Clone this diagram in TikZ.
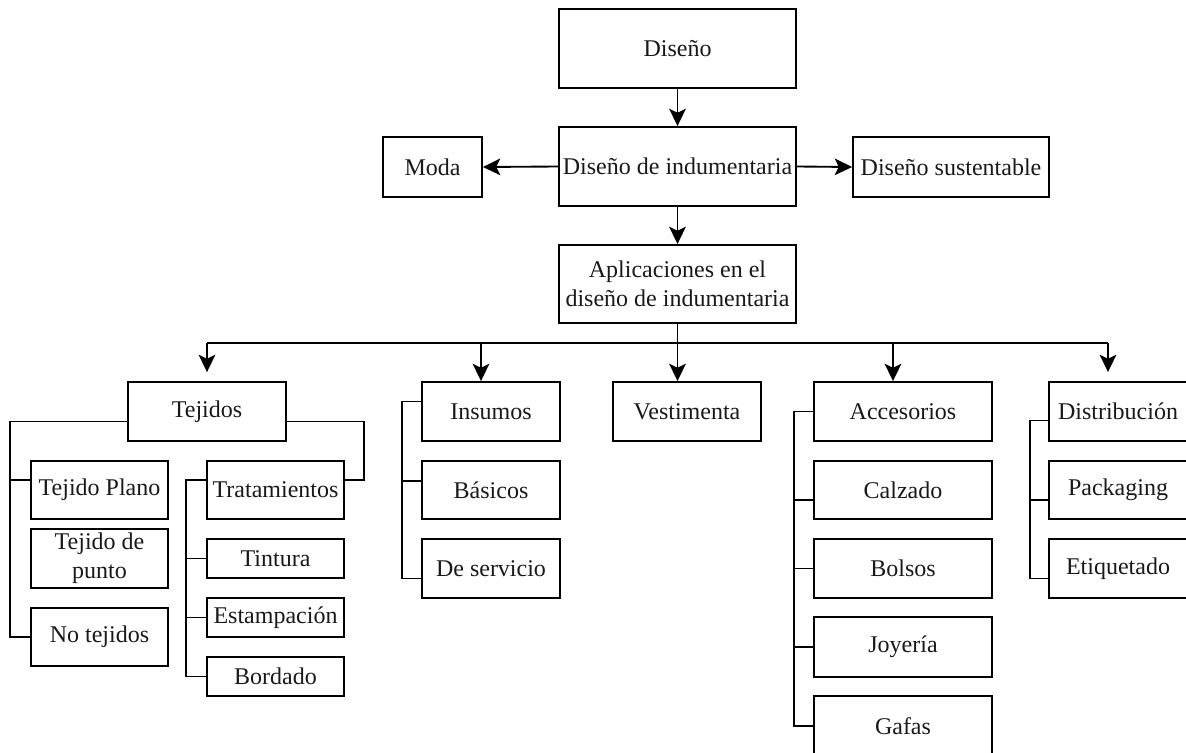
\documentclass[tikz,border=0pt]{standalone}
\usepackage{fontspec}
\setmainfont{Liberation Serif}
\usetikzlibrary{arrows.meta,calc}
\newcommand{\bx}[6]{%
  \pgfmathsetmacro{\boxwd}{(#4-#2)*0.75}%
  \pgfmathsetmacro{\boxht}{(#5-#3)*0.75}%
  \node[box, minimum width=\boxwd pt, minimum height=\boxht pt] (#1) at ({(#2+#4)/2},{(#3+#5)/2}) {#6};}
\begin{document}
\begin{tikzpicture}[x=0.75pt,y=-0.75pt,line width=1.4pt,
  box/.style={draw, rectangle, inner sep=0pt, align=center, text=black!90,
    font=\fontsize{18}{21.75}\selectfont},
  arr/.style={-{Stealth[length=13pt,width=12.5pt,inset=3pt]}}]
\useasboundingbox (0,0) rectangle (1186,753);
% top
\bx{dis}{559}{9}{796}{88}{Diseño}
\bx{ddi}{559}{127}{796}{206}{Diseño de indumentaria}
\bx{moda}{383}{137}{482}{197}{Moda}
\bx{sus}{853}{137}{1049}{197}{Diseño sustentable}
\bx{apl}{559}{245}{796}{323}{Aplicaciones en el\\diseño de indumentaria}
% Tejidos
\bx{tej}{128}{382}{286}{441}{Tejidos}
\bx{tpl}{31}{461}{168}{519}{Tejido Plano}
\bx{tdp}{31}{529}{168}{588}{Tejido de\\punto}
\bx{nte}{31}{608}{168}{666}{No tejidos}
\bx{tra}{207}{461}{344}{519}{Tratamientos}
\bx{tin}{207}{539}{344}{578}{Tintura}
\bx{est}{207}{598}{344}{637}{Estampación}
\bx{bor}{207}{657}{344}{696}{Bordado}
% Insumos
\bx{ins}{422}{382}{560}{441}{Insumos}
\bx{bas}{422}{461}{560}{519}{Básicos}
\bx{des}{422}{539}{560}{598}{De servicio}
% Vestimenta
\bx{ves}{613}{382}{761}{441}{Vestimenta}
% Accesorios
\bx{acc}{814}{382}{992}{441}{Accesorios}
\bx{cal}{814}{461}{992}{519}{Calzado}
\bx{bol}{814}{539}{992}{598}{Bolsos}
\bx{joy}{814}{617}{992}{677}{Joyería}
\bx{gaf}{814}{696}{992}{756}{Gafas}
% Distribucion
\bx{dist}{1049}{382}{1187}{441}{Distribución}
\bx{pack}{1049}{461}{1187}{519}{Packaging}
\bx{eti}{1049}{539}{1187}{598}{Etiquetado}
% top connectors
\draw[arr] (dis.south) -- (ddi.north);
\draw[arr] (ddi.west) -- (moda.east);
\draw[arr] (ddi.east) -- (sus.west);
\draw[arr] (ddi.south) -- (apl.north);
% bus
\coordinate (bL) at (207,343);
\coordinate (bI) at (481,343);
\coordinate (bA) at (893,343);
\coordinate (bR) at (1108,343);
\draw (bL) -- (bR);
\draw[arr] (apl.south) -- (apl.south |- ves.north);
\draw[arr, shorten >=6.75pt] (bL) -- (bL |- tej.north);
\draw[arr] (bI) -- (bI |- ins.north);
\draw[arr] (bA) -- (bA |- acc.north);
\draw[arr, shorten >=6.75pt] (bR) -- (bR |- dist.north);
% Tejidos brackets
\draw ($(tej.west)+(0,10)$) -| ($(nte.west)+(-20,0)$) -- (nte.west);
\draw ($(tpl.west)+(-20,-10)$) -- ($(tpl.west)+(0,-10)$);
\draw ($(tej.east)+(0,10)$) -| ($(tra.east)+(19,-10)$) -- ($(tra.east)+(0,-10)$);
\draw ($(tra.west)+(0,-10)$) -| ($(bor.west)+(-20,0)$) -- (bor.west);
\draw ($(tin.west)+(-20,0)$) -- (tin.west);
\draw ($(est.west)+(-20,0)$) -- (est.west);
% Insumos brackets
\draw ($(ins.west)+(0,-10)$) -| ($(des.west)+(-19,10)$) -- ($(des.west)+(0,10)$);
\draw ($(bas.west)+(-19,-9)$) -- ($(bas.west)+(0,-9)$);
% Accesorios brackets
\draw (acc.west) -| ($(gaf.west)+(-19,0)$) -- (gaf.west);
\draw ($(cal.west)+(-19,10)$) -- ($(cal.west)+(0,10)$);
\draw ($(bol.west)+(-19,0)$) -- (bol.west);
\draw ($(joy.west)+(-19,0)$) -- (joy.west);
% Distribucion brackets
\draw ($(dist.west)+(0,9)$) -| ($(eti.west)+(-18,10)$) -- ($(eti.west)+(0,10)$);
\draw ($(pack.west)+(-18,10)$) -- ($(pack.west)+(0,10)$);
\end{tikzpicture}
\end{document}
